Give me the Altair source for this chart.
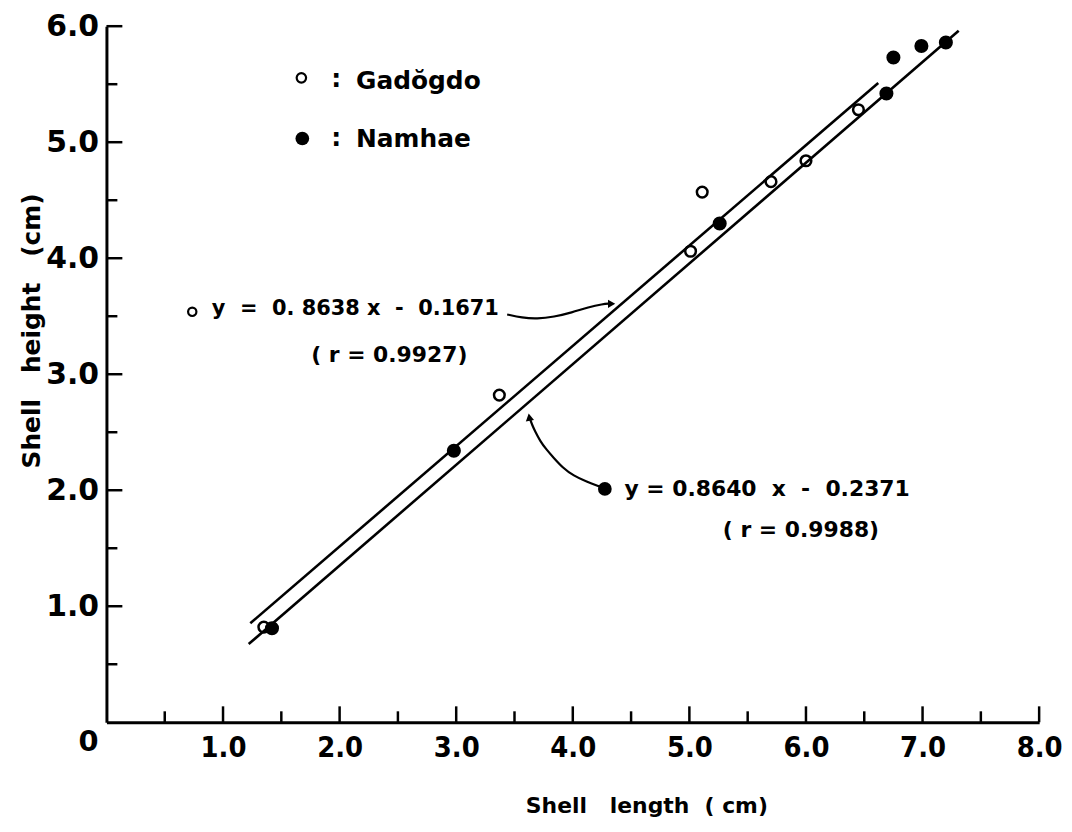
import altair as alt
import pandas as pd

# ---------------- data ----------------
gad_x = [1.35, 3.37, 5.01, 5.11, 5.70, 6.00, 6.45]
gad_y = [0.82, 2.82, 4.06, 4.57, 4.66, 4.84, 5.28]
nam_x = [1.42, 2.98, 5.26, 6.69, 6.75, 6.99, 7.20]
nam_y = [0.81, 2.34, 4.30, 5.42, 5.73, 5.83, 5.86]

# regression lines as drawn (end points)
gad_fit_x = [1.234, 6.62]
gad_fit_y = [0.853, 5.51]
nam_fit_x = [1.22, 7.31]
nam_fit_y = [0.674, 5.96]

# ticks
x_major = [1, 2, 3, 4, 5, 6, 7, 8]
x_minor = [0.5, 1.5, 2.5, 3.5, 4.5, 5.5, 6.5, 7.5]
y_major = [1, 2, 3, 4, 5, 6]
y_minor = [0.5, 1.5, 2.5, 3.5, 4.5, 5.5]

# annotation arrows (curves)
arrow_up_x = [3.437, 3.565, 3.693, 3.838, 3.991, 4.136, 4.256, 4.316]
arrow_up_y = [3.515, 3.486, 3.477, 3.494, 3.532, 3.579, 3.605, 3.609]
arrow_lo_x = [4.230, 4.119, 4.006, 3.915, 3.835, 3.770, 3.721, 3.676, 3.650, 3.629]
arrow_lo_y = [2.031, 2.073, 2.125, 2.193, 2.281, 2.355, 2.423, 2.509, 2.566, 2.628]

FONT = "DejaVu Sans"
XFONT = "DejaVu Sans Condensed, DejaVu Sans"
NB = "\u00a0"

xs = alt.Scale(domain=[0, 8], nice=False, zero=False)
ys = alt.Scale(domain=[0, 6], nice=False, zero=False)

x_axis = alt.Axis(
    values=x_major, format=".1f", ticks=False, grid=False,
    domainWidth=3, domainColor="black",
    labelFont=XFONT, labelFontSize=29, labelFontWeight="bold", labelColor="black",
    labelPadding=11, labelFlush=False, labelOverlap=False,
    title=f"Shell{NB}{NB}{NB}length{NB}{NB}({NB}cm)",
    titleFont=FONT, titleFontSize=22, titleFontWeight="bold", titleColor="black",
    titleX=543, titleY=84, titleAlign="center", titleBaseline="middle",
)
y_axis = alt.Axis(
    values=y_major, format=".1f", ticks=False, grid=False,
    domainWidth=3, domainColor="black",
    labelFont=FONT, labelFontSize=30, labelFontWeight="bold", labelColor="black",
    labelPadding=8, labelFlush=False, labelOverlap=False,
    title=f"Shell{NB}{NB}{NB}height{NB}{NB}{NB}(cm)",
    titleFont=FONT, titleFontSize=25, titleFontWeight="bold", titleColor="black",
    titleX=-75, titleY=306, titleAngle=270, titleAlign="center", titleBaseline="middle",
)


def X(field):
    return alt.X(field, scale=xs, axis=x_axis)


def Y(field):
    return alt.Y(field, scale=ys, axis=y_axis)


gad_df = pd.DataFrame({"x": gad_x, "y": gad_y})
nam_df = pd.DataFrame({"x": nam_x, "y": nam_y})

gad_layer = alt.Chart(gad_df).mark_point(
    shape="circle", filled=False, size=115, strokeWidth=2.5, color="black", opacity=1
).encode(x=X("x:Q"), y=Y("y:Q"))

nam_layer = alt.Chart(nam_df).mark_circle(size=200, color="black", opacity=1).encode(
    x=X("x:Q"), y=Y("y:Q")
)


def line_layer(xv, yv, width=2.5):
    df = pd.DataFrame({"x": xv, "y": yv, "i": list(range(len(xv)))})
    return alt.Chart(df).mark_line(color="black", strokeWidth=width, interpolate="basis").encode(
        x=X("x:Q"), y=Y("y:Q"), order=alt.Order("i:Q"),
    )


fit_gad = line_layer(gad_fit_x, gad_fit_y, 2.6)
fit_nam = line_layer(nam_fit_x, nam_fit_y, 2.6)
arr_up = line_layer(arrow_up_x, arrow_up_y, 2.2)
arr_lo = line_layer(arrow_lo_x, arrow_lo_y, 2.2)


def tick_layer(vals, axis, length):
    df = pd.DataFrame({"v": vals})
    if axis == "x":
        return alt.Chart(df).mark_rule(color="black", strokeWidth=2.5, y2Offset=-length).encode(
            x=X("v:Q"), y=alt.YDatum(0), y2=alt.Y2Datum(0),
        )
    return alt.Chart(df).mark_rule(color="black", strokeWidth=2.5, x2Offset=length).encode(
        y=Y("v:Q"), x=alt.XDatum(0), x2=alt.X2Datum(0),
    )


ticks = [
    tick_layer(x_major, "x", 16),
    tick_layer(x_minor, "x", 11),
    tick_layer(y_major, "y", 16),
    tick_layer(y_minor, "y", 11),
]


def text_at(x, y, txt, size=21, align="left", dx=0, dy=0):
    return alt.Chart(pd.DataFrame({"x": [x], "y": [y], "t": [txt]})).mark_text(
        font=FONT, fontSize=size, fontWeight="bold", color="black",
        align=align, baseline="middle", dx=dx, dy=dy,
    ).encode(x=X("x:Q"), y=Y("y:Q"), text="t:N")


def sym_at(x, y, shape, size, filled, angle=0):
    return alt.Chart(pd.DataFrame({"x": [x], "y": [y]})).mark_point(
        shape=shape, size=size, filled=filled, color="black", opacity=1,
        strokeWidth=2.2, angle=angle,
    ).encode(x=X("x:Q"), y=Y("y:Q"))


annotations = [
    # legend
    sym_at(1.672, 5.555, "circle", 90, False),
    text_at(1.970, 5.545, ":", 25, "center"),
    text_at(2.141, 5.523, "Gadŏgdo", 25),
    sym_at(1.680, 5.032, "circle", 190, True),
    text_at(1.970, 5.040, ":", 25, "center"),
    text_at(2.141, 5.026, "Namhae", 25),
    # upper equation
    sym_at(0.736, 3.538, "circle", 70, False),
    text_at(0.904, 3.558, f"y{NB}{NB}={NB}{NB}0.{NB}8638{NB}x{NB}{NB}-{NB}{NB}0.1671", 21),
    text_at(2.426, 3.166, f"({NB}r{NB}={NB}0.9927)", 22, "center"),
    sym_at(4.333, 3.607, "triangle-right", 70, True),
    # lower equation
    sym_at(4.275, 2.011, "circle", 190, True),
    text_at(4.443, 2.014, f"y{NB}={NB}0.8640{NB}{NB}x{NB}{NB}-{NB}{NB}0.2371", 22),
    text_at(5.957, 1.655, f"({NB}r{NB}={NB}0.9988)", 22, "center"),
    sym_at(3.627, 2.630, "triangle-up", 70, True, 350),
    # origin label
    text_at(0.0, 0.0, "0", 29, "center", dx=-18, dy=20),
]

chart = alt.layer(
    gad_layer, fit_gad, fit_nam, nam_layer, arr_up, arr_lo, *ticks, *annotations
).properties(
    width=938, height=700,
    autosize=alt.AutoSizeParams(type="none"),
    padding={"left": 99, "top": 16, "right": 25, "bottom": 95},
    background="white",
).configure_view(stroke=None)

chart.save("out.html", embed_options={"renderer": "svg", "actions": False})
